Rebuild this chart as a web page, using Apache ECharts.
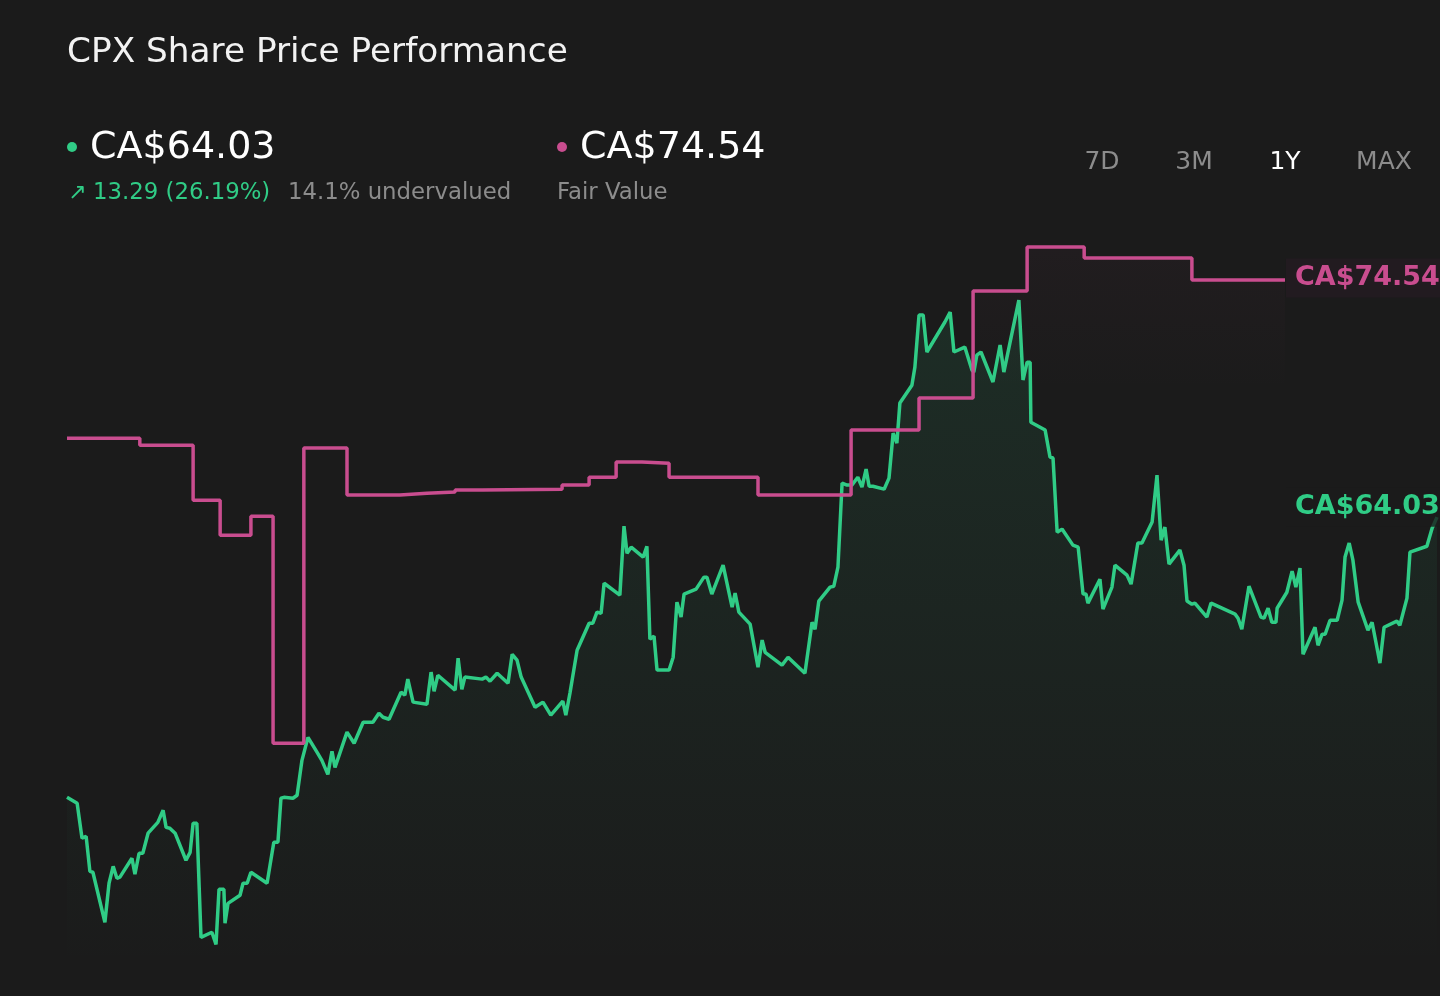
<!DOCTYPE html>
<html>
<head>
<meta charset="utf-8">
<title>CPX Share Price Performance</title>
<script src="https://cdn.jsdelivr.net/npm/echarts@6/dist/echarts.min.js"></script>
<style>
  html, body { margin: 0; padding: 0; background: #1b1b1b; }
  #main_chart { width: 1440px; height: 996px; }
</style>
</head>
<body>
<div id="main_chart"></div>
<script>
// day offsets over the 1Y window (calendar days) and closing prices, CA$
var priceDays = [0,2.7,4.0,5.1,6.1,6.9,10.1,11.2,12.3,12.8,13.3,14.1,17.3,18.1,18.6,19.2,20.2,21.6,24.2,25.6,
  26.4,27.4,28.8,31.7,32.8,33.6,34.6,35.7,38.6,39.7,40.5,41.8,42.1,42.9,46.1,46.9,48.0,49.0,53.3,55.1,
  56.2,57.0,57.8,60.2,61.3,62.6,64.2,66.6,67.9,69.5,70.6,71.4,74.6,76.5,78.9,81.5,83.1,84.2,85.8,89.0,
  90.0,90.8,92.2,95.9,97.0,97.8,98.8,103.4,104.2,105.2,106.0,110.6,111.6,112.7,114.6,117.5,118.6,119.9,121.0,124.7,
  126.8,128.9,132.1,132.9,134.0,135.9,139.1,140.1,141.2,142.3,143.1,147.3,148.4,149.2,150.3,153.5,154.5,155.3,156.4,157.2,
  160.4,161.5,162.5,163.6,164.4,167.6,169.7,170.5,171.8,174.8,177.2,178.0,179.0,182.0,184.1,184.6,185.2,186.0,190.5,192.1,
  196.6,198.5,199.3,200.3,203.3,204.3,205.4,206.5,207.8,209.1,210.7,211.8,212.9,213.7,214.7,217.7,219.0,220.1,221.1,221.9,
  225.1,225.9,227.0,228.1,229.1,233.9,235.3,236.3,239.2,241.1,241.6,242.4,243.5,246.7,248.6,249.6,253.6,254.7,255.8,256.6,
  256.8,260.6,261.9,262.7,263.8,265.1,268.0,269.4,270.7,271.5,272.0,275.2,276.0,278.4,279.2,282.4,283.5,285.3,286.4,289.1,
  290.4,291.5,292.5,293.6,296.5,297.6,298.4,299.7,300.5,303.7,304.8,311.2,312.0,313.0,314.9,318.1,318.9,320.0,321.0,322.1,
  322.4,325.0,326.4,327.4,328.5,329.3,332.5,333.3,334.4,335.2,336.5,338.4,339.7,340.5,341.6,342.6,344.0,346.6,347.7,349.8,
  350.9,354.3,355.1,357.0,357.8,362.3,363.7,365];
var priceValues = [51.61,51.35,49.80,49.88,48.33,48.29,46.07,47.80,48.55,48.55,48.02,48.07,48.91,48.20,48.20,49.13,49.13,50.02,50.50,51.04,
  50.28,50.24,50.02,48.82,49.17,50.46,50.46,45.40,45.63,45.09,47.53,47.53,46.03,46.91,47.27,47.80,47.80,48.29,47.80,49.62,
  49.62,51.57,51.61,51.57,51.70,53.25,54.27,53.61,53.25,52.63,53.65,52.94,54.50,54.01,54.94,54.94,55.34,55.16,55.07,56.27,
  56.14,56.85,55.83,55.74,57.16,56.31,57.02,56.36,57.78,56.40,56.94,56.85,56.94,56.76,57.11,56.67,57.95,57.69,56.94,55.60,
  55.83,55.25,55.87,55.25,56.23,58.13,59.33,59.33,59.82,59.77,61.10,60.57,63.63,62.43,62.70,62.26,62.74,58.62,58.75,57.25,
  57.25,57.82,60.26,59.60,60.62,60.84,61.37,61.37,60.62,61.90,60.04,60.66,59.82,59.29,57.38,57.38,58.58,58.04,57.47,57.82,
  57.11,59.37,59.06,60.31,60.93,60.97,61.81,65.54,65.45,65.45,65.80,65.36,66.16,65.40,65.40,65.27,65.76,67.75,67.31,69.09,
  69.88,70.68,72.99,72.99,71.35,72.68,73.12,71.35,71.57,70.55,70.46,71.21,71.35,70.02,71.66,70.46,73.65,70.11,70.90,70.90,
  68.24,67.89,66.69,66.65,63.36,63.50,62.79,62.70,60.62,60.62,60.22,61.28,59.95,60.93,61.90,61.46,61.06,62.88,62.88,63.81,
  65.89,63.01,63.59,61.95,62.57,61.90,60.31,60.17,60.22,59.60,60.22,59.73,59.55,59.06,60.97,59.60,59.55,59.99,59.37,59.37,
  59.99,60.70,61.64,60.93,61.77,57.95,59.15,58.35,58.84,58.84,59.46,59.46,60.35,62.26,62.88,62.12,60.26,59.02,59.37,57.56,
  59.15,59.42,59.24,60.44,62.48,62.74,63.54,64.03];

// fair value estimate: day it was set and its value
var fairDays = [0,19.4,33.6,40.8,49.0,54.9,63.1,74.6,88.7,95.9,103.4,110.6,131.9,139.1,146.3,153.2,160.4,184.1,208.9,227.0,241.4,255.8,271.0,299.7,324.5];
var fairValues = [67.53,67.22,64.78,63.23,64.07,54.01,67.09,65.01,65.09,65.14,65.23,65.27,65.45,65.80,66.47,66.42,65.80,65.01,67.89,69.31,74.05,76.00,75.52,74.54,74.54];

var ranges = ['7D', '3M', '1Y', 'MAX'];
var activeRange = '1Y';

var GREEN = '#30cc86';
var PINK = '#c94d8f';
var GREY = '#8c8c8c';
var FONT = "'DejaVu Sans', sans-serif";

function zip(xs, ys) {
    var out = [];
    for (var i = 0; i < Math.min(xs.length, ys.length); i++) {
        out.push([xs[i], ys[i]]);
    }
    return out;
}

var chart = echarts.init(document.getElementById('main_chart'));

var rangeX = [1102, 1194, 1285, 1384];
var rangeText = ranges.map(function (r, i) {
    return {
        type: 'text', x: rangeX[i], y: 162,
        style: { text: r, font: '25px ' + FONT, fill: r === activeRange ? '#ffffff' : GREY, align: 'center', verticalAlign: 'middle' }
    };
});

chart.setOption({
    backgroundColor: '#1b1b1b',
    animation: false,
    grid: { left: 67, right: 3, top: 202, bottom: 27 },
    xAxis: {
        type: 'value', min: 0, max: 365, show: false,
        splitLine: { show: false }
    },
    yAxis: {
        type: 'value', min: 44, max: 78, show: false,
        splitLine: { show: false }
    },
    graphic: [
        { type: 'text', x: 67, y: 53, style: { text: 'CPX Share Price Performance', font: '34.3px ' + FONT, fill: '#f2f2f2', verticalAlign: 'middle' } },
        { type: 'circle', shape: { cx: 72, cy: 147, r: 5 }, style: { fill: GREEN } },
        { type: 'text', x: 90, y: 148, style: { text: 'CA$64.03', font: '38px ' + FONT, fill: '#ffffff', verticalAlign: 'middle' } },
        { type: 'text', x: 68, y: 193, style: { text: '\u2197', font: '22px ' + FONT, fill: GREEN, verticalAlign: 'middle' } },
        { type: 'text', x: 93, y: 193, style: { text: '13.29 (26.19%)', font: '22.8px ' + FONT, fill: GREEN, verticalAlign: 'middle' } },
        { type: 'text', x: 288, y: 193, style: { text: '14.1% undervalued', font: '22.8px ' + FONT, fill: GREY, verticalAlign: 'middle' } },
        { type: 'circle', shape: { cx: 562, cy: 147, r: 5 }, style: { fill: PINK } },
        { type: 'text', x: 580, y: 148, style: { text: 'CA$74.54', font: '38px ' + FONT, fill: '#ffffff', verticalAlign: 'middle' } },
        { type: 'text', x: 557, y: 193, style: { text: 'Fair Value', font: '22.8px ' + FONT, fill: GREY, verticalAlign: 'middle' } }
    ].concat(rangeText),
    series: [{
        name: 'Share Price',
        type: 'line',
        data: zip(priceDays, priceValues),
        showSymbol: false,
        symbol: 'none',
        lineStyle: { color: GREEN, width: 3.5 },
        areaStyle: {
            color: new echarts.graphic.LinearGradient(0, 0, 0, 1, [
                { offset: 0, color: 'rgba(48,204,134,0.15)' },
                { offset: 1, color: 'rgba(48,204,134,0)' }
            ])
        },
        endLabel: {
            show: true,
            formatter: 'CA$64.03',
            color: GREEN,
            fontFamily: FONT,
            fontWeight: 'bold',
            fontSize: 27,
            backgroundColor: 'rgba(27,27,27,0.8)',
            padding: [6, 10, 6, 9],
            distance: 1,
            offset: [-152, -10]
        },
        z: 2
    }, {
        name: 'Fair Value',
        type: 'line',
        step: 'end',
        data: zip(fairDays, fairValues),
        showSymbol: false,
        symbol: 'none',
        lineStyle: { color: PINK, width: 3.5 },
        areaStyle: {
            color: new echarts.graphic.LinearGradient(0, 0, 0, 1, [
                { offset: 0, color: 'rgba(201,77,143,0.05)' },
                { offset: 0.2, color: 'rgba(201,77,143,0)' }
            ])
        },
        endLabel: {
            show: true,
            formatter: 'CA$74.54',
            color: PINK,
            fontFamily: FONT,
            fontWeight: 'bold',
            fontSize: 27,
            backgroundColor: '#221b20',
            padding: [6, 10, 6, 9],
            distance: 1,
            offset: [0, -2]
        },
        z: 3
    }]
});

window.addEventListener('resize', function () {
    chart.resize();
});
</script>
</body>
</html>
